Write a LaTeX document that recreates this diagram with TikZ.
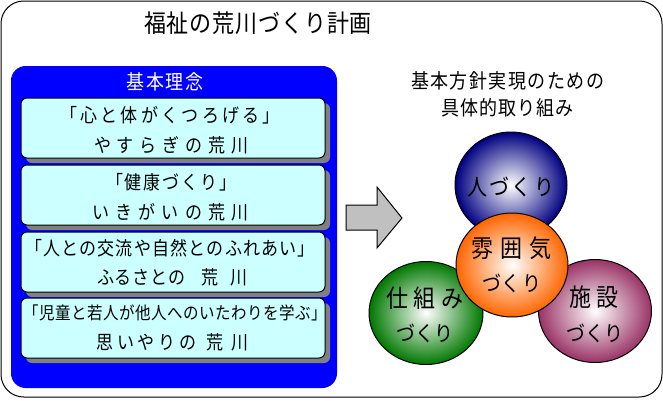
\documentclass[tikz,border=0pt]{standalone}
\usepackage{fontspec}
\usepackage{graphicx}
\setmainfont{Noto Sans CJK JP}
\usetikzlibrary{shapes.geometric}
\newlength\px \setlength\px{0.75pt}
\def\sprfirst#1{#1\sprrest}
\def\sprrest#1{\ifx#1\relax\else\hfill#1\expandafter\sprrest\fi}
\newcommand\spr[2]{\makebox[#1\px]{\sprfirst#2\relax}}
\newcommand\fs[1]{\fontsize{\the\dimexpr#1\px\relax}{\the\dimexpr#1\px\relax}\selectfont}
\newcommand\vs[1]{\scalebox{1}[1.12]{#1}}
\definecolor{panelblue}{RGB}{0,0,255}
\definecolor{boxcyan}{RGB}{204,255,255}
\definecolor{shadowgray}{RGB}{128,128,128}
\definecolor{arrowgray}{RGB}{192,192,192}
\definecolor{ballnavy}{RGB}{0,0,128}
\definecolor{ballgreen}{RGB}{0,120,0}
\definecolor{ballpurple}{RGB}{153,51,102}
\definecolor{ballorange}{RGB}{255,102,0}
\tikzset{
  txt/.style={inner sep=0pt, outer sep=0pt},
  ideabox/.style={draw=black, line width=0.75pt, fill=boxcyan, rounded corners=4.5pt},
  shadowbox/.style={fill=shadowgray, rounded corners=4.5pt},
  ball/.style={ellipse, draw=black, line width=0.75pt, inner sep=0pt},
}
\begin{document}
\begin{tikzpicture}[x=0.75pt,y=-0.75pt]
\useasboundingbox (0,0) rectangle (663,400);
% outer frame
\draw[line width=0.75pt, rounded corners=17pt] (1,1) rectangle (662,397);
\node[txt] (title) at (258,23) {\vs{\fs{22}\spr{228}{福祉の荒川づくり計画}}};
% blue panel
\fill[panelblue, rounded corners=11pt] (11,66) rectangle (337,388);
\node[txt, text=white] (rinen) at (165,82) {\vs{\fs{18}\spr{78}{基本理念}}};
% idea boxes
\foreach \t in {98,165,232,298}{
  \fill[shadowbox] (26,\t+5) rectangle (330,\t+65);
  \draw[ideabox] (21,\t) rectangle (325,\t+60);
}
\node[txt] (b1a) at (170,115) {\vs{\fs{17}\spr{220}{「心と体がくつろげる」}}};
\node[txt] (b1b) at (171.5,145) {\vs{\fs{17}\spr{155}{やすらぎの荒川}}};
\node[txt] (b2a) at (171.5,182) {\vs{\fs{17}\spr{131}{「健康づくり」}}};
\node[txt] (b2b) at (170.5,212) {\vs{\fs{17}\spr{157}{いきがいの荒川}}};
\node[txt] (b3a) at (170,248) {\vs{\fs{17}\spr{290}{「人との交流や自然とのふれあい」}}};
\node[txt] (b3b) at (172.5,277) {\vs{\fs{17}\spr{89}{ふるさとの}\hspace{16\px}\spr{46}{荒川}}};
\node[txt] (b4a) at (175,313) {\vs{\fs{15.5}\spr{304}{「児童と若人が他人へのいたわりを学ぶ」}}};
\node[txt] (b4b) at (172.5,342) {\vs{\fs{17}\spr{100}{思いやりの}\hspace{10\px}\spr{42}{荒川}}};
% arrow
\draw[fill=arrowgray, line width=0.75pt] (346,205) -- (377,205) -- (377,187) -- (402,218) -- (377,248) -- (377,230) -- (346,230) -- cycle;
% right title
\node[txt] (rt1) at (507.5,81) {\vs{\fs{18}\spr{193}{基本方針実現のための}}};
\node[txt] (rt2) at (507.5,108) {\vs{\fs{18}\spr{133}{具体的取り組み}}};
% balls
\node[ball, inner color=white, outer color=ballnavy, minimum width=112\px, minimum height=106\px] (jin) at (511,185) {};
\node[ball, inner color=white, outer color=ballgreen, minimum width=114\px, minimum height=103\px] (shikumi) at (426,313) {};
\node[ball, inner color=white, outer color=ballpurple, minimum width=113\px, minimum height=103\px] (shisetsu) at (595,311) {};
\node[ball, inner color=white, outer color=ballorange, minimum width=112\px, minimum height=104\px] (fun) at (512,265) {};
\node[txt] (jint) at (510.5,187) {\vs{\fs{20}\spr{87}{人づくり}}};
\node[txt] (funt1) at (511,248) {\vs{\fs{22}\spr{80}{雰囲気}}};
\node[txt] (funt2) at (511.5,283) {\vs{\fs{19}\spr{59}{づくり}}};
\node[txt] (shikt1) at (425,298) {\vs{\fs{22}\spr{78}{仕組み}}};
\node[txt] (shikt2) at (425,333) {\vs{\fs{19}\spr{58}{づくり}}};
\node[txt] (shist1) at (594,297) {\vs{\fs{22}\spr{50}{施設}}};
\node[txt] (shist2) at (595,333) {\vs{\fs{19}\spr{58}{づくり}}};
\end{tikzpicture}
\end{document}
